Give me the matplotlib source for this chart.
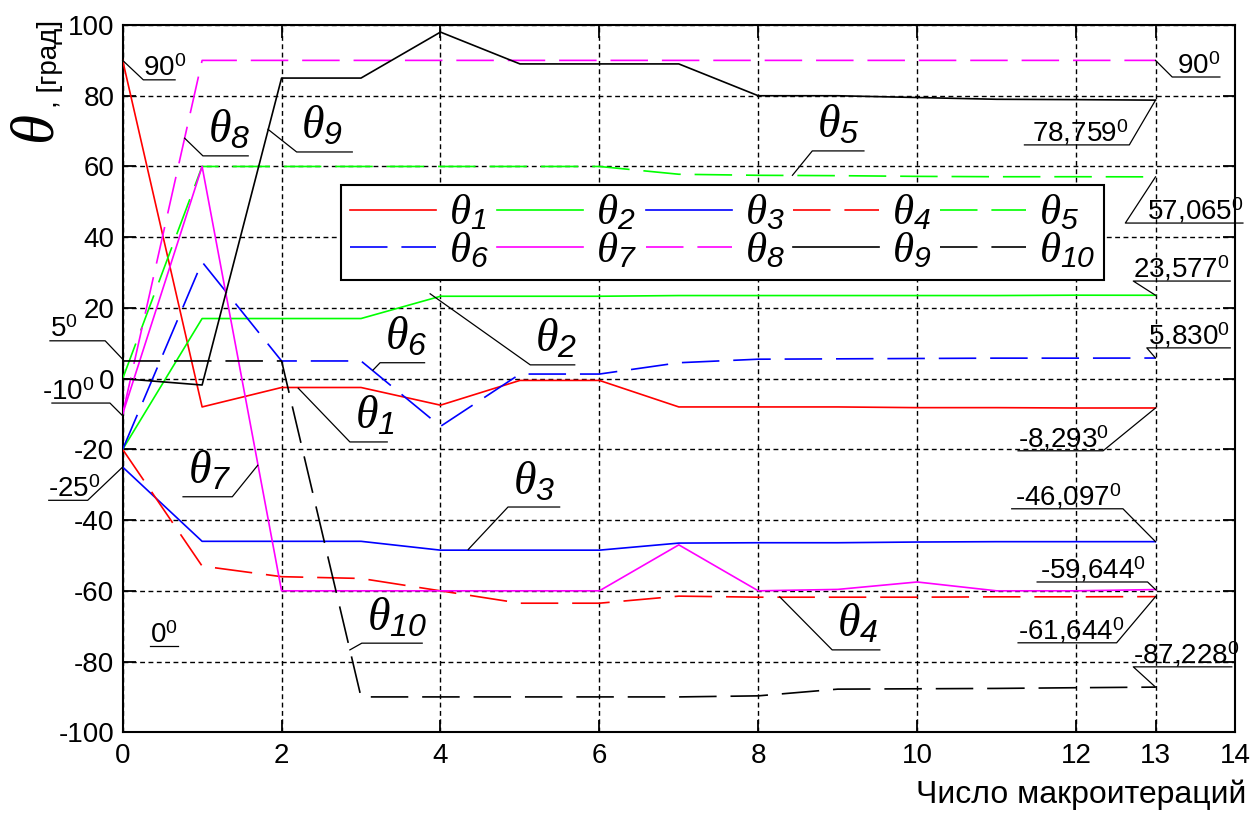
"""
Углы theta_1..theta_10 по макроитерациям: линии, легенда в две строки и выноски с подписями.
"""
import matplotlib
matplotlib.use("Agg")
import matplotlib.pyplot as plt

plt.rcParams.update({
    "font.family": "Liberation Sans",
    "mathtext.fontset": "custom",
    "mathtext.rm": "Liberation Sans",
    "mathtext.it": "Liberation Serif:italic",
    "mathtext.sf": "Liberation Sans:italic",
    "lines.scale_dashes": False,
    "axes.unicode_minus": False,
})

# ── Data ──────────────────────────────────────────────────────────────────────
iters = [0, 1, 2, 3, 4, 5, 6, 7, 8, 9, 10, 11, 12, 13]

theta1  = [90, -8, -2.5, -2.5, -7.5, -0.5, -0.5, -8.0, -8.0, -8.0, -8.2, -8.2, -8.3, -8.293]
theta2  = [-20, 17, 17, 17, 23.3, 23.3, 23.3, 23.5, 23.5, 23.5, 23.5, 23.5, 23.6, 23.577]
theta3  = [-25, -46, -46, -46, -48.5, -48.5, -48.5, -46.5, -46.4, -46.4, -46.2, -46.1, -46.1, -46.097]
theta4  = [-20, -53, -56, -56.5, -60, -63.5, -63.5, -61.5, -61.8, -61.8, -61.8, -61.7, -61.7, -61.644]
theta5  = [0, 60, 60, 60, 60, 60, 60, 57.8, 57.5, 57.4, 57.2, 57.1, 57.1, 57.065]
theta6  = [-20, 33, 5, 5, -13.5, 1.3, 1.3, 4.5, 5.5, 5.6, 5.7, 5.8, 5.8, 5.83]
theta7  = [-10, 60, -60, -60, -60, -60, -60, -47, -60, -59.6, -57.5, -60, -60, -59.644]
theta8  = [-10, 90, 90, 90, 90, 90, 90, 90, 90, 90, 90, 90, 90, 90]
theta9  = [0, -1.8, 85, 85, 98, 89, 89, 89, 80, 80, 79.5, 79, 78.9, 78.759]
theta10 = [5, 5, 5, -90, -90, -90, -90, -90, -89.7, -87.8, -87.7, -87.6, -87.4, -87.228]

series = [theta1, theta2, theta3, theta4, theta5,
          theta6, theta7, theta8, theta9, theta10]
names = [r"$\theta_{\mathsf{%d}}$" % (i + 1) for i in range(10)]

xticks = [0, 2, 4, 6, 8, 10, 12, 13, 14]
yticks = [-100, -80, -60, -40, -20, 0, 20, 40, 60, 80, 100]

# ── Style ─────────────────────────────────────────────────────────────────────
GREEN = "#00ff00"
STYLES = [("red", "-"), (GREEN, "-"), ("blue", "-"), ("red", "--"), (GREEN, "--"),
          ("blue", "--"), ("magenta", "-"), ("magenta", "--"), ("black", "-"), ("black", "--")]
DASH = (27, 10)

fig = plt.figure(figsize=(12.58, 8.15), dpi=100)
ax = fig.add_axes([0.0975, 0.1015, 0.8842, 0.8678])

lines = []
for vals, (col, ls) in zip(series, STYLES):
    if ls == "--":
        ln, = ax.plot(iters, vals, color=col, lw=1.2, dashes=DASH, zorder=3)
    else:
        ln, = ax.plot(iters, vals, color=col, lw=1.2, zorder=3)
    lines.append(ln)

ax.set_xlim(0, 14)
ax.set_ylim(-100, 100)
ax.set_xticks(xticks)
ax.set_yticks(yticks)
ax.set_axisbelow(True)
ax.grid(True, color="black", linestyle=(0, (3.5, 2.5)), linewidth=1.0)
ax.tick_params(direction="in", length=9, width=1.3, top=True, right=True,
               labelsize=20, colors="black")
ax.tick_params(axis="x", pad=8)
ax.tick_params(axis="y", pad=6)
for sp in ax.spines.values():
    sp.set_linewidth(1.5)

# ── Legend: two rows of five ─────────────────────────────────────────────────
order = [0, 5, 1, 6, 2, 7, 3, 8, 4, 9]
leg = ax.legend([lines[i] for i in order], [names[i] for i in order],
                ncol=5, loc="upper left", bbox_to_anchor=(0.1963, 0.7738),
                fontsize=31, handlelength=2.0, handletextpad=0.3,
                columnspacing=0.2, labelspacing=-0.05, borderpad=0.2,
                borderaxespad=0, fancybox=False, framealpha=1,
                edgecolor="black")
leg.get_frame().set_linewidth(1.5)
leg.set_zorder(6)

# ── Callouts: tip on curve, knee, underline end, text x ──────────────────────
callouts = [
    ("90$^{0}$",      (0, 90),        (0.26, 84.5),   0.66,  0.26),
    ("5$^{0}$",       (0, 5.5),       (-0.22, 10.7),  -0.915, -0.915),
    ("-10$^{0}$",     (0, -10.5),     (-0.16, -6.9),  -0.89, -1.016),
    ("-25$^{0}$",     (0, -25),       (-0.44, -34.4), -0.93, -0.94),
    ("0$^{0}$",       None,           (0.34, -75.6),  0.70,  0.344),
    ("90$^{0}$",      (13, 90),       (13.21, 85.3),  13.81, 13.27),
    ("78,759$^{0}$",  (13, 78.759),   (12.67, 66.1),  11.35, 11.45),
    ("57,065$^{0}$",  (13, 57.065),   (12.62, 44.0),  14.1,  12.89),
    ("23,577$^{0}$",  (13, 23.577),   (12.72, 27.6),  13.94, 12.72),
    ("5,830$^{0}$",   (13, 5.83),     (12.89, 8.7),   13.94, 12.91),
    ("-8,293$^{0}$",  (13, -8.293),   (12.34, -20.4), 11.27, 11.27),
    ("-46,097$^{0}$", (13, -46.097),  (12.59, -36.8), 11.19, 11.23),
    ("-59,644$^{0}$", (13, -59.644),  (12.90, -57.5), 11.51, 11.55),
    ("-61,644$^{0}$", (13, -61.644),  (12.51, -74.7), 11.27, 11.27),
    ("-87,228$^{0}$", (13, -87.228),  (12.72, -81.5), 13.96, 12.72),
]

theta_callouts = [
    (names[7], (0.78, 68),    (1.01, 63.0),  1.58),
    (names[8], (1.83, 70.5),  (2.19, 64.1),  2.89),
    (names[6], (1.70, -24.5), (1.38, -33.4), 0.76),
    (names[9], (2.86, -76.7), (3.01, -74.8), 3.77),
    (names[0], (2.21, -2.7),  (2.86, -17.9), 3.33),
    (names[5], (3.15, 2.4),   (3.24, 4.5),   3.80),
    (names[1], (3.87, 24.0),  (5.13, 3.9),   5.69),
    (names[2], (4.35, -48.3), (4.85, -36.3), 5.50),
    (names[3], (8.27, -61.7), (8.93, -76.7), 9.53),
    (names[4], (8.43, 57.5),  (8.68, 64.4),  9.33),
]


def leader(tip, knee, end_x):
    xs, ys = [knee[0], end_x], [knee[1], knee[1]]
    if tip is not None:
        xs, ys = [tip[0]] + xs, [tip[1]] + ys
    ax.plot(xs, ys, color="black", lw=0.9, clip_on=False, zorder=5)


for txt, tip, knee, end_x, tx in callouts:
    leader(tip, knee, end_x)
    ax.annotate(txt, xy=(tx, knee[1]), xytext=(0, 2.5), textcoords="offset points",
                ha="left", va="baseline", fontsize=20, annotation_clip=False, zorder=5)

for txt, tip, knee, end_x in theta_callouts:
    leader(tip, knee, end_x)
    ax.annotate(txt, xy=(min(knee[0], end_x) + 0.06, knee[1]), xytext=(0, 2),
                textcoords="offset points", ha="left", va="bottom",
                fontsize=33, annotation_clip=False, zorder=5)

# ── Axis titles ───────────────────────────────────────────────────────────────
fig.text(54 / 1258, 1 - 145 / 815, r"$\theta$", rotation=90, rotation_mode="anchor",
         ha="left", va="baseline", fontsize=44)
fig.text(57 / 1258, 1 - 108 / 815, ", [град]", rotation=90, rotation_mode="anchor",
         ha="left", va="baseline", fontsize=20)
fig.text(1246 / 1258, 1 - 795 / 815, "Число макроитераций", ha="right", va="center",
         fontsize=23)

fig.savefig("out.png", dpi=100, facecolor="white")
